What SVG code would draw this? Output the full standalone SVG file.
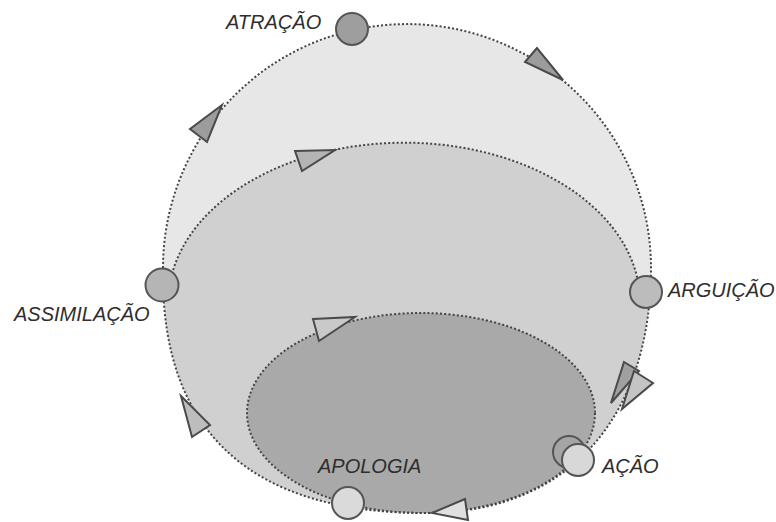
<svg xmlns="http://www.w3.org/2000/svg" width="776" height="522" viewBox="0 0 776 522">
<style>
.dot{fill:none;stroke:#444;stroke-width:2;stroke-dasharray:2 2.2}
.tri{stroke:#4a4a4a;stroke-width:2;stroke-linejoin:miter}
.node{stroke:#555;stroke-width:2}
.lbl{font-family:"Liberation Sans",Arial,sans-serif;font-style:italic;font-size:20px;fill:#2e2e2e}
</style>
<defs>
<clipPath id="outerClip">
<path d="M163,268 A244,244 0 0 1 651,268 C651,410 575,513 425,513 C260,513 160,440 163,268 Z"/>
</clipPath>
</defs>
<rect width="776" height="522" fill="#fff"/>
<g id="regions">
<path id="outer" d="M163,268 A244,244 0 0 1 651,268 C651,410 575,513 425,513 C260,513 160,440 163,268 Z" fill="#e7e7e7"/>
<path id="middle" d="M172,274 A236,160 0 0 1 638,281 L720,281 L720,560 L100,560 L100,274 Z" fill="#d0d0d0" clip-path="url(#outerClip)"/>
<ellipse id="inner" cx="421" cy="413" rx="174" ry="100" fill="#a9a9a9"/>
</g>
<g id="connectors">
<path class="dot" d="M163,268 A244,244 0 0 1 651,268 C651,410 575,513 425,513 C260,513 160,440 163,268 Z"/>
<path class="dot" d="M172,274 A236,160 0 0 1 638,281"/>
<ellipse class="dot" cx="421" cy="413" rx="174" ry="100"/>
<polygon class="tri" fill="#9c9c9c" points="537,48 525,62 563,80"/>
<polygon class="tri" fill="#9c9c9c" points="222,105 190,129 207,142"/>
<polygon class="tri" fill="#b4b4b4" points="295,151 335,150 302,171"/>
<polygon class="tri" fill="#c9c9c9" points="313,319 355,317 319,341"/>
<polygon class="tri" fill="#bdbdbd" points="181,396 210,425 192,437"/>
<polygon class="tri" fill="#e0e0e0" points="432,513 465,499 468,520"/>
<polygon class="tri" fill="#a0a0a0" points="624,362 639,371 611,403"/>
<polygon class="tri" fill="#c4c4c4" points="634,371 653,383 622,409"/>
</g>
<g id="atracao">
<circle class="node" cx="352" cy="29" r="16" fill="#9e9e9e"/>
<text class="lbl" x="226" y="29">ATRAÇÃO</text>
</g>
<g id="assimilacao">
<circle class="node" cx="162" cy="285" r="16.5" fill="#b5b5b5"/>
<text class="lbl" x="14" y="321">ASSIMILAÇÃO</text>
</g>
<g id="arguicao">
<circle class="node" cx="646" cy="292" r="16" fill="#bcbcbc"/>
<text class="lbl" x="668" y="297">ARGUIÇÃO</text>
</g>
<g id="apologia">
<circle class="node" cx="348" cy="503" r="16" fill="#dadada"/>
<text class="lbl" x="318" y="473">APOLOGIA</text>
</g>
<g id="acao">
<circle class="node" cx="569" cy="452" r="16" fill="#a5a5a5"/>
<circle class="node" cx="578" cy="460" r="16" fill="#d8d8d8"/>
<text class="lbl" x="602" y="473">AÇÃO</text>
</g>
</svg>
